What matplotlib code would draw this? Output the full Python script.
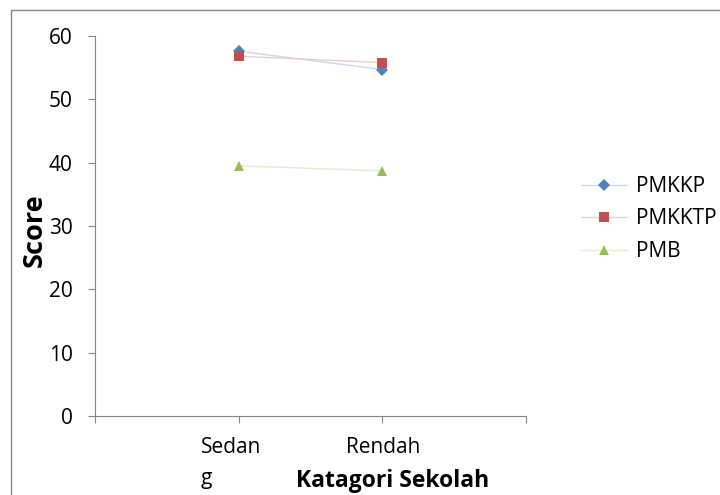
import matplotlib
matplotlib.use("Agg")
import matplotlib.pyplot as plt
from matplotlib.lines import Line2D
from matplotlib.patches import Rectangle
from matplotlib.transforms import ScaledTranslation

categories = ["Sedan\ng", "Rendah"]
cat_pos = [1, 2]
pmkkp = [57.6, 54.7]
pmkktp = [56.8, 55.8]
pmb = [39.5, 38.7]

plt.rcParams["font.family"] = ["Open Sans", "DejaVu Sans"]

W, H = 720, 495
fig = plt.figure(figsize=(W / 100, H / 100), dpi=100)
ax = fig.add_axes([95 / W, 1 - 416 / H, (526 - 95) / W, (416 - 36) / H])

# (name, values, marker colour, faint line colour, marker, size)
series = [
    ("PMKKP", pmkkp, "#4F81BD", "#C9D8EC", "D", 6),
    ("PMKKTP", pmkktp, "#C0504D", "#EDCDCC", "s", 6.5),
    ("PMB", pmb, "#9BBB59", "#E3ECD0", "^", 7),
]
handles = []
for name, vals, col, tint, mk, ms in series:
    ax.plot(cat_pos, vals, color=tint, lw=1.0, marker=mk, ms=ms,
            mfc=col, mec=col, mew=0)
    handles.append(Line2D([], [], color=tint, lw=1.0, marker=mk, ms=ms,
                          mfc=col, mec=col, mew=0, label=name))

ax.set_xlim(0, 3)
ax.set_ylim(0, 60)
ax.set_yticks(range(0, 61, 10))
ax.set_xticks([0, 1, 2, 3])
ax.set_xticklabels([])
ax.tick_params(axis="x", direction="out", length=5, color="#868686")
ax.tick_params(axis="y", direction="out", length=5, color="#868686",
               labelsize=15, pad=11)
for sp in ("top", "right"):
    ax.spines[sp].set_visible(False)
for sp in ("left", "bottom"):
    ax.spines[sp].set_color("#868686")

# category labels (Excel wraps "Sedang" and nudges it left)
shifts = [-8, 1]
for pos, lab, dx in zip(cat_pos, categories, shifts):
    tr = ax.get_xaxis_transform() + ScaledTranslation(
        dx / 100, -21 / 100, fig.dpi_scale_trans)
    ax.text(pos, 0, lab, transform=tr, ha="center", va="top", fontsize=15,
            multialignment="left", linespacing=1.6)

fig.legend(handles=handles, loc="center left",
           bbox_to_anchor=(581 / W, 1 - 219 / H), frameon=False,
           fontsize=15, handlelength=2.2, labelspacing=0.55,
           handletextpad=0.45, borderpad=0, borderaxespad=0)

fig.text(35 / W, 1 - 230 / H, "Score", rotation=90, ha="center", va="center",
         fontsize=19.5, fontweight="bold")
fig.text(393 / W, 1 - 481 / H, "Katagori Sekolah", ha="center", va="center",
         fontsize=16.5, fontweight="bold")

# chart-area border (only left and top edges fall inside the image)
fig.patches.append(Rectangle((11 / W, -0.1), 1.2, 1.1 - 10 / H,
                             transform=fig.transFigure, fill=False,
                             edgecolor="#868686", lw=1.0))

fig.savefig("out.png", dpi=100)
